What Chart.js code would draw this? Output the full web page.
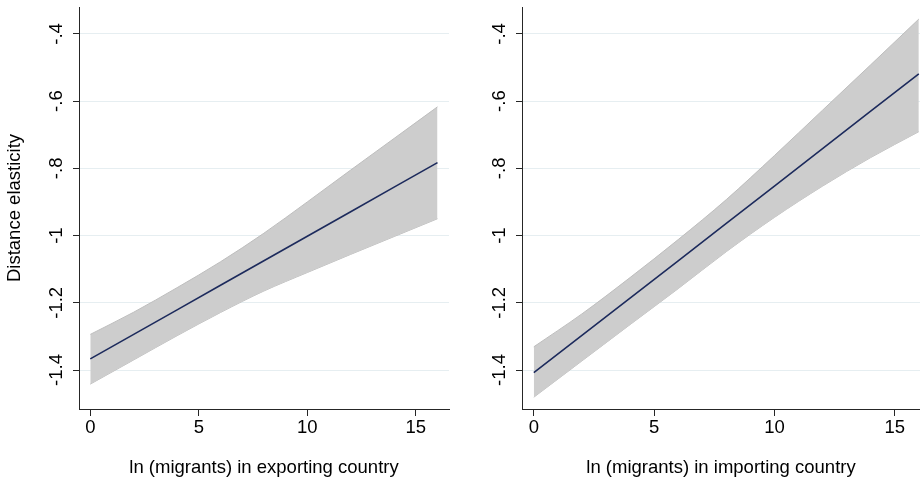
<!DOCTYPE html>
<html>
<head>
<meta charset="utf-8">
<script src="https://cdn.jsdelivr.net/npm/chart.js@4/dist/chart.umd.min.js"></script>
<style>
    body { margin: 0; background: #fff; }
    .panel { position: absolute; top: 0; width: 460px; height: 479px; }
</style>
</head>
<body>
<div class="panel" style="left:0"><canvas id="left-chart" width="460" height="479"></canvas></div>
<div class="panel" style="left:460px"><canvas id="right-chart" width="460" height="479"></canvas></div>
<script>
const migrants = [0, 2, 4, 6, 8, 10, 12, 14, 16];

// exporting country panel
const exportFit = [-1.367, -1.294, -1.221, -1.148, -1.075, -1.002, -0.929, -0.856, -0.783];
const exportUpper = [-1.294, -1.228, -1.155, -1.078, -0.993, -0.900, -0.805, -0.711, -0.617];
const exportLower = [-1.442, -1.370, -1.298, -1.229, -1.165, -1.110, -1.056, -1.003, -0.950];

// importing country panel
const importFit = [-1.408, -1.297, -1.186, -1.075, -0.964, -0.853, -0.741, -0.630, -0.519];
const importUpper = [-1.331, -1.233, -1.125, -1.012, -0.893, -0.762, -0.627, -0.492, -0.356];
const importLower = [-1.481, -1.373, -1.265, -1.158, -1.048, -0.946, -0.853, -0.768, -0.691];

const xTicks = [0, 5, 10, 15];
const yTicks = [-1.4, -1.2, -1, -0.8, -0.6, -0.4];
const yTickLabels = ['-1.4', '-1.2', '-1', '-.8', '-.6', '-.4'];

const fontFamily = "'Liberation Sans', Arial, sans-serif";
const fontSize = 18.5;
const axisColor = '#262626';

function points(ys) {
    return migrants.map((x, i) => ({ x: x, y: ys[i] }));
}

function makePanel(id, fit, upper, lower, cfg) {
    const ctx = document.getElementById(id).getContext('2d');
    return new Chart(ctx, {
        type: 'line',
        data: {
            datasets: [
                {
                    data: points(fit),
                    borderColor: '#1c2a5c',
                    borderWidth: 1.6,
                    pointRadius: 0,
                    fill: false,
                    order: 0
                },
                {
                    data: points(upper),
                    borderColor: '#bdbdbd',
                    borderWidth: 1,
                    backgroundColor: '#cdcdcd',
                    pointRadius: 0,
                    cubicInterpolationMode: 'monotone',
                    fill: '+1',
                    order: 1
                },
                {
                    data: points(lower),
                    borderColor: '#bdbdbd',
                    borderWidth: 1,
                    pointRadius: 0,
                    cubicInterpolationMode: 'monotone',
                    fill: false,
                    order: 1
                }
            ]
        },
        options: {
            responsive: false,
            animation: false,
            layout: { padding: { top: 7, right: cfg.padRight, left: 0, bottom: 0 } },
            plugins: { legend: { display: false }, tooltip: { enabled: false } },
            scales: {
                x: {
                    type: 'linear',
                    min: cfg.xMin,
                    max: cfg.xMax,
                    afterBuildTicks: s => { s.ticks = xTicks.map(v => ({ value: v })); },
                    afterFit: s => {
                        s.height = 70;
                        s.paddingLeft = 0; s.paddingRight = 0;
                    },
                    border: { display: true, color: axisColor, width: 1 },
                    grid: { drawOnChartArea: false, drawTicks: true, tickLength: 7, tickColor: axisColor },
                    ticks: {
                        padding: 1,
                        maxRotation: 0,
                        color: '#000',
                        font: { family: fontFamily, size: fontSize },
                        callback: v => String(v)
                    },
                    title: {
                        display: true,
                        text: cfg.xTitle,
                        color: '#000',
                        font: { family: fontFamily, size: fontSize },
                        padding: { top: 0, bottom: 0 }
                    }
                },
                y: {
                    min: -1.516,
                    max: -0.32,
                    afterBuildTicks: s => { s.ticks = yTicks.map(v => ({ value: v })); },
                    afterFit: s => {
                        s.width = cfg.yWidth;
                        s.paddingTop = 0; s.paddingBottom = 0;
                    },
                    border: { display: true, color: axisColor, width: 1 },
                    grid: { color: '#e6eef1', lineWidth: 1, tickLength: 6, tickColor: axisColor },
                    ticks: {
                        padding: 0,
                        minRotation: 90,
                        maxRotation: 90,
                        crossAlign: 'center',
                        color: '#000',
                        font: { family: fontFamily, size: fontSize },
                        callback: (v, i) => yTickLabels[i]
                    },
                    title: {
                        display: cfg.yTitle !== '',
                        text: cfg.yTitle,
                        color: '#000',
                        font: { family: fontFamily, size: fontSize },
                        padding: { top: 4, bottom: 0 }
                    }
                }
            }
        }
    });
}

makePanel('left-chart', exportFit, exportUpper, exportLower, {
    xMin: -0.52, xMax: 16.53, padRight: 11, yWidth: 79,
    xTitle: 'ln (migrants) in exporting country',
    yTitle: 'Distance elasticity'
});

makePanel('right-chart', importFit, importUpper, importLower, {
    xMin: -0.49, xMax: 16.05, padRight: 0, yWidth: 62,
    xTitle: 'ln (migrants) in importing country',
    yTitle: ''
});
</script>
</body>
</html>
